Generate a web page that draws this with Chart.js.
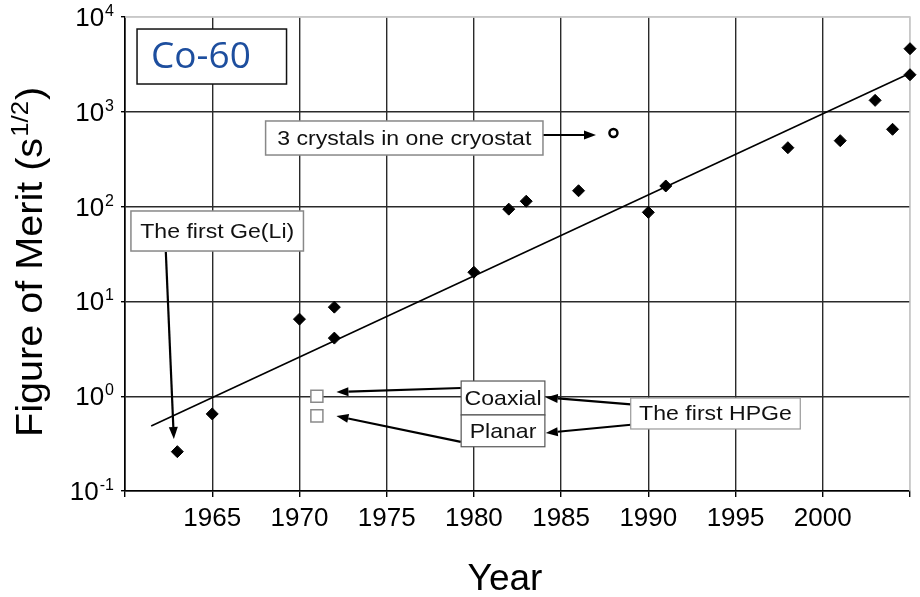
<!DOCTYPE html>
<html>
<head>
<meta charset="utf-8">
<script src="https://cdn.jsdelivr.net/npm/chart.js@4.4.1/dist/chart.umd.min.js"></script>
<style>
  html, body { margin: 0; padding: 0; background: #fff; }
  canvas { display: block; }
</style>
</head>
<body>
<canvas id="chart" width="920" height="597"></canvas>
<script>
// Ge detectors, Co-60 figure of merit by year
const years = [1963, 1965, 1970, 1972, 1972, 1980, 1982, 1983, 1986, 1990, 1991, 1998, 2001, 2003, 2004, 2005, 2005];
const merit = [0.26, 0.65, 6.5, 8.7, 4.1, 20.3, 94, 114, 147, 87, 165, 418, 496, 1320, 654, 2460, 4630];
const hpgeYears = [1971, 1971];      // open squares: Coaxial, Planar
const hpgeMerit = [1.0, 0.62];
const cryoYears = [1988];            // open circle: 3 crystals in one cryostat
const cryoMerit = [598];
const fitYears = [1961.5, 2005];     // exponential trend line
const fitMerit = [0.485, 2550];
const yExponents = [-1, 0, 1, 2, 3, 4];
const hiddenYearLabels = [1960, 2005];

const FONT = "'Liberation Sans', Arial, sans-serif";

// annotation boxes [x1, x2] in years, [y1, y2] in merit units
const boxes = [
  { text: "Co-60", x: [1960.69, 1969.26], y: [7468, 1964], font: "37px 'Open Sans', sans-serif", color: "#1d4e9e", border: "#111", lw: 1.5, align: "left", pad: 14 },
  { text: "3 crystals in one cryostat", x: [1968.06, 1983.96], y: [800, 350], font: "21px " + FONT, color: "#111", border: "#888", lw: 1.5 },
  { text: "The first Ge(Li)", x: [1960.34, 1970.23], y: [89.9, 34.0], font: "21px " + FONT, color: "#111", border: "#888", lw: 1.5 },
  { text: "Coaxial", x: [1979.27, 1984.07], y: [1.446, 0.634], font: "21px " + FONT, color: "#111", border: "#555", lw: 1.2 },
  { text: "Planar", x: [1979.27, 1984.07], y: [0.634, 0.293], font: "21px " + FONT, color: "#111", border: "#555", lw: 1.2 },
  { text: "The first HPGe", x: [1988.99, 1998.71], y: [0.957, 0.451], font: "21px " + FONT, color: "#111", border: "#999", lw: 1.2 }
];
// arrows: from [year, merit] to [year, merit]
const arrows = [
  { from: [1983.96, 569], to: [1987.0, 569] },
  { from: [1962.34, 33.2], to: [1962.80, 0.354] },
  { from: [1989.0, 0.82], to: [1984.12, 0.97] },
  { from: [1989.0, 0.50], to: [1984.12, 0.41] },
  { from: [1979.25, 1.22], to: [1972.12, 1.107] },
  { from: [1979.25, 0.33], to: [1972.12, 0.618] }
];

const toXY = (xs, ys) => xs.map((x, i) => ({ x: x, y: ys[i] }));

function drawArrow(ctx, x1, y1, x2, y2) {
  const ang = Math.atan2(y2 - y1, x2 - x1);
  const hl = 12, hw = 4.5;
  const bx = x2 - hl * Math.cos(ang), by = y2 - hl * Math.sin(ang);
  ctx.beginPath();
  ctx.moveTo(x1, y1);
  ctx.lineTo(bx, by);
  ctx.lineWidth = 2.2;
  ctx.strokeStyle = "#000";
  ctx.stroke();
  ctx.beginPath();
  ctx.moveTo(x2, y2);
  ctx.lineTo(bx + hw * Math.sin(ang), by - hw * Math.cos(ang));
  ctx.lineTo(bx - hw * Math.sin(ang), by + hw * Math.cos(ang));
  ctx.closePath();
  ctx.fillStyle = "#000";
  ctx.fill();
}

const overlay = {
  id: "overlay",
  beforeDatasetsDraw(chart) {
    // light top and right frame, under the markers
    const ctx = chart.ctx, area = chart.chartArea;
    ctx.save();
    ctx.strokeStyle = "#c8c8c8";
    ctx.lineWidth = 1.5;
    ctx.beginPath();
    ctx.moveTo(area.left, area.top);
    ctx.lineTo(area.right, area.top);
    ctx.lineTo(area.right, area.bottom);
    ctx.stroke();
    ctx.restore();
  },
  afterDatasetsDraw(chart) {
    const ctx = chart.ctx;
    const xs = chart.scales.x, ys = chart.scales.y;
    ctx.save();

    arrows.forEach(a => {
      drawArrow(ctx, xs.getPixelForValue(a.from[0]), ys.getPixelForValue(a.from[1]),
        xs.getPixelForValue(a.to[0]), ys.getPixelForValue(a.to[1]));
    });

    boxes.forEach(b => {
      const l = xs.getPixelForValue(b.x[0]), r = xs.getPixelForValue(b.x[1]);
      const t = ys.getPixelForValue(b.y[0]), btm = ys.getPixelForValue(b.y[1]);
      ctx.fillStyle = "#fff";
      ctx.fillRect(l, t, r - l, btm - t);
      ctx.strokeStyle = b.border;
      ctx.lineWidth = b.lw;
      ctx.strokeRect(l, t, r - l, btm - t);
      ctx.font = b.font;
      ctx.fillStyle = b.color;
      ctx.textBaseline = "middle";
      ctx.save();
      if (b.align === "left") {
        ctx.textAlign = "left";
        ctx.translate(l + b.pad, (t + btm) / 2 + 1);
      } else {
        ctx.textAlign = "center";
        ctx.translate((l + r) / 2, (t + btm) / 2 + 1);
        ctx.scale(1.1, 1);
      }
      ctx.fillText(b.text, 0, 0);
      ctx.restore();
    });

    // y tick labels with superscript exponents
    ctx.fillStyle = "#000";
    ctx.textBaseline = "alphabetic";
    yExponents.forEach(e => {
      const y = ys.getPixelForValue(Math.pow(10, e));
      const sup = String(e);
      ctx.font = "16px " + FONT;
      const sw = ctx.measureText(sup).width;
      ctx.textAlign = "right";
      ctx.fillText(sup, 114, y - 1);
      ctx.font = "26px " + FONT;
      ctx.fillText("10", 114 - sw - 1, y + 9);
    });

    // y axis title
    ctx.save();
    ctx.translate(42, 263);
    ctx.rotate(-Math.PI / 2);
    ctx.scale(1.07, 1);
    const main = "Figure of Merit (s", sup = "1/2", close = ")";
    ctx.font = "37px " + FONT;
    const w1 = ctx.measureText(main).width, w3 = ctx.measureText(close).width;
    ctx.font = "24px " + FONT;
    const w2 = ctx.measureText(sup).width;
    const x0 = -(w1 + w2 + w3) / 2;
    ctx.textAlign = "left";
    ctx.font = "37px " + FONT;
    ctx.fillText(main, x0, 0);
    ctx.font = "24px " + FONT;
    ctx.fillText(sup, x0 + w1 + 1, -14);
    ctx.font = "37px " + FONT;
    ctx.fillText(close, x0 + w1 + w2 + 2, 0);
    ctx.restore();

    // x axis title
    ctx.font = "37px " + FONT;
    ctx.textAlign = "center";
    ctx.fillText("Year", 505, 590);

    ctx.restore();
  }
};

new Chart(document.getElementById("chart"), {
  type: "scatter",
  data: {
    datasets: [
      {
        type: "line",
        data: toXY(fitYears, fitMerit),
        borderColor: "#000",
        borderWidth: 1.6,
        pointRadius: 0,
        fill: false,
        clip: false
      },
      {
        data: toXY(years, merit),
        pointStyle: "rectRot",
        pointRadius: 6,
        backgroundColor: "#000",
        borderColor: "#000",
        borderWidth: 1,
        clip: false
      },
      {
        data: toXY(hpgeYears, hpgeMerit),
        pointStyle: "rect",
        pointRadius: 8.5,
        backgroundColor: "#fff",
        borderColor: "#8a8a8a",
        borderWidth: 1.5,
        clip: false
      },
      {
        data: toXY(cryoYears, cryoMerit),
        pointStyle: "circle",
        pointRadius: 4,
        backgroundColor: "#fff",
        borderColor: "#000",
        borderWidth: 2.5,
        clip: false
      }
    ]
  },
  options: {
    responsive: false,
    maintainAspectRatio: false,
    animation: false,
    datasets: { scatter: { clip: false }, line: { clip: false } },
    layout: { padding: { top: 17, right: 8, left: 0, bottom: 0 } },
    plugins: { legend: { display: false }, tooltip: { enabled: false } },
    scales: {
      x: {
        type: "linear",
        min: 1960,
        max: 2005,
        afterFit: s => { s.height = 106; },
        ticks: {
          stepSize: 5,
          color: "#000",
          padding: 6,
          font: { family: FONT, size: 26 },
          callback: v => hiddenYearLabels.includes(v) ? "" : String(v)
        },
        grid: {
          color: ctx => (ctx.tick && ctx.tick.value === 2005) ? "#c8c8c8" : "#2a2a2a",
          lineWidth: 1.4,
          tickLength: 6,
          tickColor: "#000"
        },
        border: { color: "#000", width: 1.6 }
      },
      y: {
        type: "logarithmic",
        min: 0.1,
        max: 10000,
        afterFit: s => { s.width = 125; },
        afterBuildTicks: s => { s.ticks = yExponents.map(e => ({ value: Math.pow(10, e) })); },
        ticks: { display: false },
        grid: {
          color: ctx => (ctx.tick && ctx.tick.value === 10000) ? "#c8c8c8" : "#2a2a2a",
          lineWidth: 1.4,
          tickLength: 4,
          tickColor: "#000"
        },
        border: { color: "#000", width: 1.6 }
      }
    }
  },
  plugins: [overlay]
});
</script>
</body>
</html>
